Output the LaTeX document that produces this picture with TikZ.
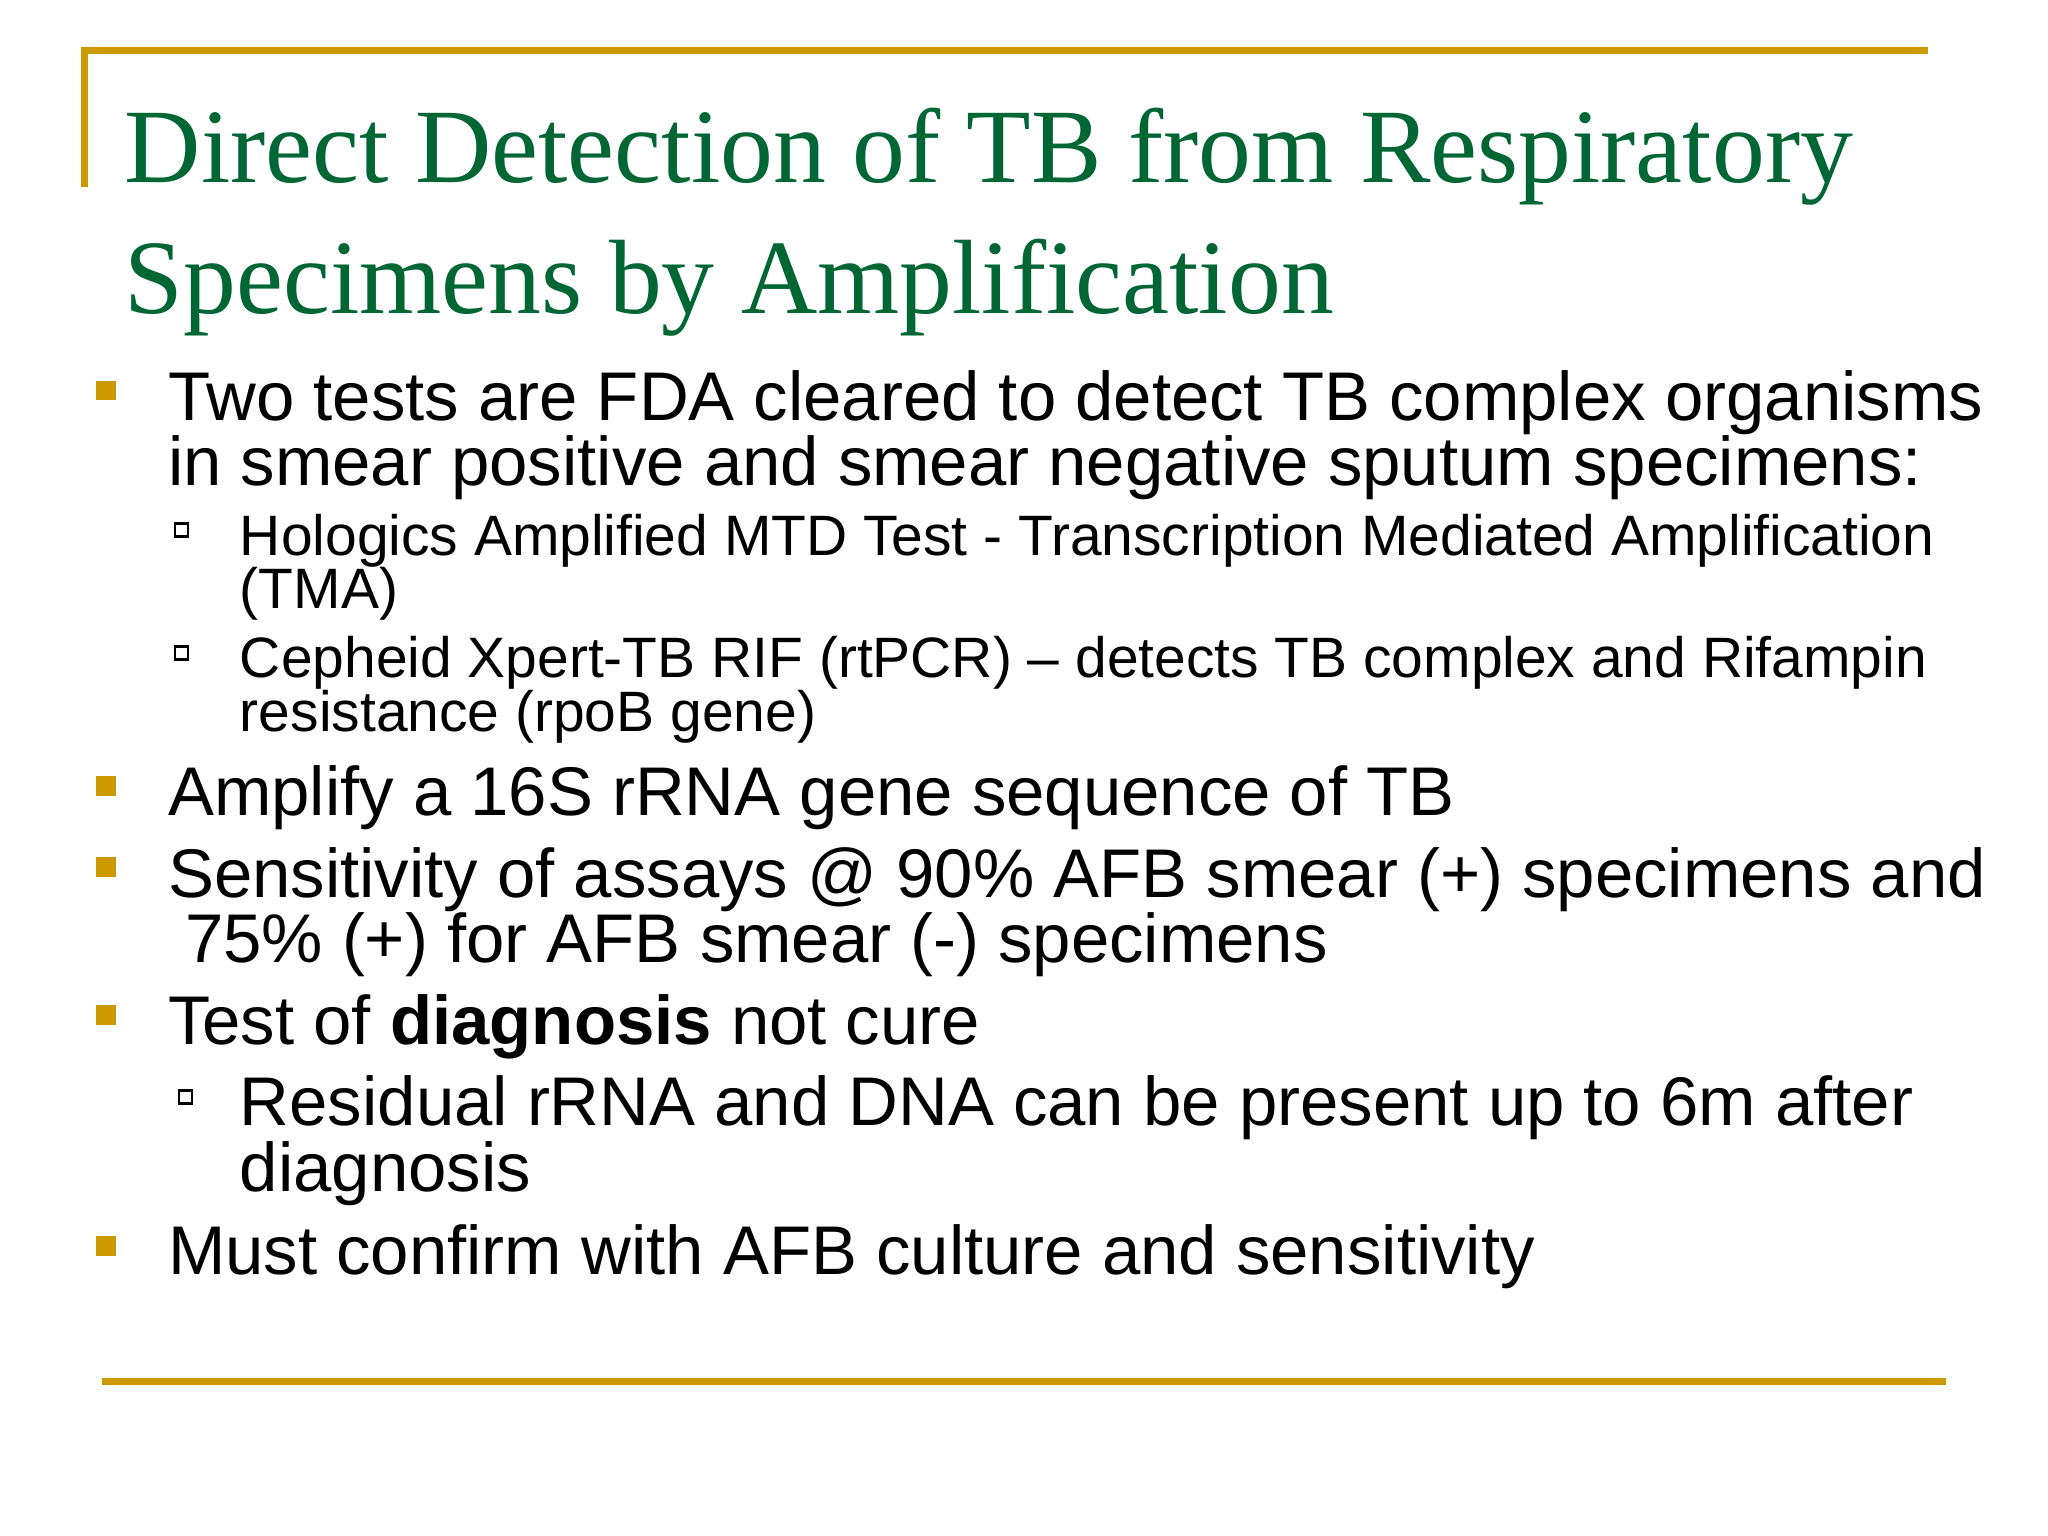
\documentclass[tikz,border=0pt]{standalone}
\usepackage{fontspec}
\setmainfont{Liberation Sans}
\newfontfamily\titlefont{Liberation Serif}
\definecolor{gold}{RGB}{204,153,0}
\definecolor{tgreen}{RGB}{0,102,51}
\begin{document}
\begin{tikzpicture}[x=0.01cm,y=-0.01cm,
  tl/.style={anchor=base west,inner sep=0,text=tgreen,font=\titlefont\fontsize{23}{23}\selectfont},
  lone/.style={anchor=base west,inner sep=0,font=\fontsize{15}{15}\selectfont},
  ltwo/.style={anchor=base west,inner sep=0,font=\fontsize{12.4}{12.4}\selectfont},
  bul/.style={fill=gold,minimum size=0.15cm,inner sep=0},
  sbul/.style={draw=black,line width=0.6pt,minimum size=0.1cm,inner sep=0,fill=white},
  rule/.style={gold,line width=1.5pt}]
\useasboundingbox (0,0) rectangle (1568,1176);
\fill[white] (0,0) rectangle (1568,1176);
\coordinate (tl0) at (65,143); \coordinate (tl1) at (65,39); \coordinate (tl2) at (1476,39);
\draw[rule] (tl0) -- (tl1) -- (tl2);
\coordinate (bl1) at (78,1058); \coordinate (bl2) at (1490,1058);
\draw[rule] (bl1) -- (bl2);
\node[tl] (t1) at (95,140) {Direct Detection of TB from Respiratory};
\node[tl] (t2) at (95,240) {Specimens by Amplification};
\node[bul] (b1) at (81,299) {};
\node[lone] (l1a) at (128,322) {Two tests are FDA cleared to detect TB complex organisms};
\node[lone] (l1b) at (128,372) {in smear positive and smear negative sputum specimens:};
\node[sbul] (s1) at (139,406) {};
\node[ltwo] (l2a) at (183,425) {Hologics Amplified MTD Test - Transcription Mediated Amplification};
\node[ltwo] (l2b) at (183,466) {(TMA)};
\node[sbul] (s2) at (139,500) {};
\node[ltwo] (l3a) at (183,519) {Cepheid Xpert-TB RIF (rtPCR) -- detects TB complex and Rifampin};
\node[ltwo] (l3b) at (183,560) {resistance (rpoB gene)};
\node[bul] (b2) at (81,602) {};
\node[lone] (l4) at (128,624) {Amplify a 16S rRNA gene sequence of TB};
\node[bul] (b3) at (81,664) {};
\node[lone] (l5a) at (128,687) {Sensitivity of assays @ 90\% AFB smear (+) specimens and};
\node[lone] (l5b) at (141,737) {75\% (+) for AFB smear (-) specimens};
\node[bul] (b4) at (81,777) {};
\node[lone] (l6) at (128,800) {Test of \textbf{diagnosis} not cure};
\node[sbul] (s3) at (142,840) {};
\node[lone] (l7a) at (183,862) {Residual rRNA and DNA can be present up to 6m after};
\node[lone] (l7b) at (183,912) {diagnosis};
\node[bul] (b5) at (81,954) {};
\node[lone] (l8) at (128,976) {Must confirm with AFB culture and sensitivity};
\end{tikzpicture}
\end{document}
